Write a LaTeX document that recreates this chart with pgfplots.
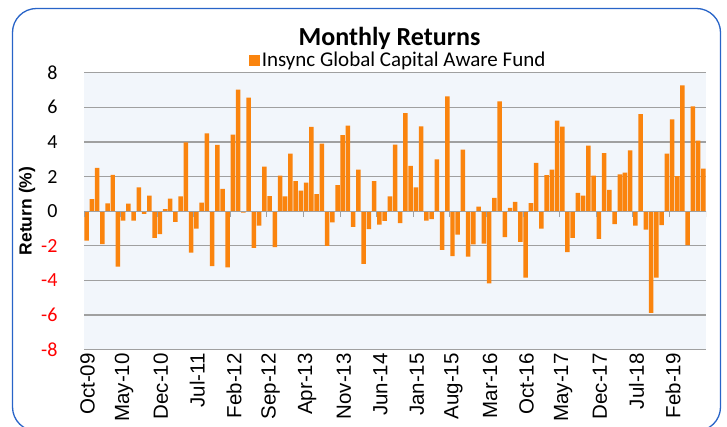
\documentclass[border=0pt]{standalone}
\usepackage{fontspec}
\setmainfont{Carlito}
\newfontfamily\arialf{Liberation Sans}
\usepackage{pgfplots}
\pgfplotsset{compat=1.18}
\definecolor{barorange}{RGB}{250,132,14}
\definecolor{plotbg}{RGB}{242,246,251}
\definecolor{gridgray}{RGB}{160,160,160}
\definecolor{frameblue}{RGB}{40,100,200}

\pgfplotstableread{
k v
0 -1.7
1 0.7
2 2.5
3 -1.9
4 0.45
5 2.1
6 -3.2
7 -0.54
8 0.44
9 -0.54
10 1.37
11 -0.15
12 0.9
13 -1.54
14 -1.33
15 0.12
16 0.73
17 -0.62
18 0.85
19 3.98
20 -2.4
21 -1.0
22 0.5
23 4.5
24 -3.17
25 3.83
26 1.29
27 -3.25
28 4.42
29 7.02
30 -0.08
31 6.56
32 -2.12
33 -0.83
34 2.58
35 0.87
36 -2.08
37 2.06
38 0.85
39 3.33
40 1.73
41 1.19
42 1.65
43 4.87
44 0.98
45 3.9
46 -2.0
47 -0.65
48 1.5
49 4.4
50 4.94
51 -0.9
52 2.4
53 -3.04
54 -1.04
55 1.73
56 -0.77
57 -0.56
58 0.85
59 3.85
60 -0.69
61 5.67
62 2.62
63 1.38
64 4.9
65 -0.54
66 -0.46
67 3.0
68 -2.23
69 6.63
70 -2.6
71 -1.35
72 3.56
73 -2.63
74 -1.92
75 0.27
76 -1.88
77 -4.17
78 0.77
79 6.35
80 -1.5
81 0.19
82 0.54
83 -1.77
84 -3.83
85 0.46
86 2.79
87 -1.0
88 2.08
89 2.4
90 5.23
91 4.88
92 -2.37
93 -1.54
94 1.06
95 0.9
96 3.79
97 2.06
98 -1.6
99 3.35
100 1.23
101 -0.75
102 2.12
103 2.23
104 3.52
105 -0.83
106 5.6
107 -1.06
108 -5.87
109 -3.83
110 -0.81
111 3.33
112 5.31
113 2.02
114 7.27
115 -1.96
116 6.06
117 4.08
118 2.46
}\returns

\begin{document}
\begin{tikzpicture}[x=1pt,y=1pt]
\path[use as bounding box] (0,0) rectangle (727,427);
\begin{scope}
\clip (0,0) rectangle (727,427);
\fill[white] (0,0) rectangle (727,427);
\draw[frameblue, line width=1.3pt, rounded corners=24pt] (12.5,-4) rectangle (720.5,418.5);
\begin{axis}[
  at={(84pt,77.3pt)}, anchor=south west,
  scale only axis, width=622pt, height=277pt,
  xmin=-0.5, xmax=118.5, ymin=-8, ymax=8,
  ybar, bar width=0.86,
  axis background/.style={fill=plotbg},
  axis line style={draw=none},
  major tick length=0pt,
  ymajorgrids, major grid style={gridgray, line width=1.2pt},
  ytick={-8,-6,-4,-2,0,2,4,6,8},
  yticklabels={\textcolor{red}{-8},\textcolor{red}{-6},\textcolor{red}{-4},\textcolor{red}{-2},0,2,4,6,8},
  yticklabel style={font=\fontsize{20}{20}\selectfont, anchor=east, xshift=-23pt},
  xtick={0,7,...,112},
  xticklabels={Oct-09,May-10,Dec-10,Jul-11,Feb-12,Sep-12,Apr-13,Nov-13,Jun-14,Jan-15,Aug-15,Mar-16,Oct-16,May-17,Dec-17,Jul-18,Feb-19},
  xticklabel style={rotate=90, anchor=east, font=\arialf\fontsize{20.5}{20.5}\selectfont, yshift=-1pt},
  legend style={at={(0.505,1)}, anchor=south, draw=none, fill=none, yshift=1pt,
    font=\fontsize{21}{21}\selectfont, inner sep=1pt},
  legend image code/.code={\fill[barorange] (0pt,-5.5pt) rectangle (11pt,5.5pt);},
]
\addplot[fill=barorange, draw=none] table[x=k, y=v] {\returns};
\addlegendentry{Insync Global Capital Aware Fund}
\draw[gridgray, line width=0.8pt] (axis cs:-0.5,0) -- (axis cs:118.5,0);
\pgfplotsinvokeforeach{-0.5,6.5,13.5,20.5,27.5,34.5,41.5,48.5,55.5,62.5,69.5,76.5,83.5,90.5,97.5,104.5,111.5,118.5}{
  \draw[gridgray, line width=1pt] (axis cs:#1,0) -- ++(0pt,-6pt);
}
\end{axis}
\node[font=\bfseries\fontsize{26}{26}\selectfont] at (389.5,389) {Monthly Returns};
\node[rotate=90, font=\arialf\bfseries\fontsize{17.5}{17.5}\selectfont] at (27,216) {Return (\%)};
\end{scope}
\end{tikzpicture}
\end{document}
